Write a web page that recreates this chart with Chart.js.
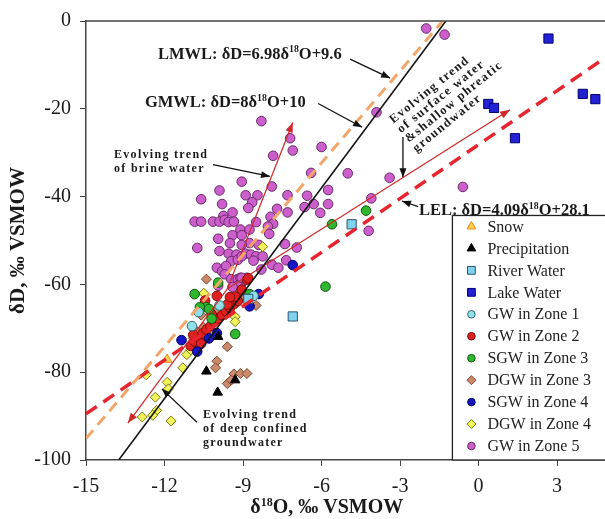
<!DOCTYPE html>
<html>
<head>
<meta charset="utf-8">
<script src="https://cdn.jsdelivr.net/npm/chart.js@4/dist/chart.umd.min.js"></script>
<style>
  html, body { margin: 0; padding: 0; background: #fff; }
  #wrap { width: 605px; height: 519px; }
</style>
</head>
<body>
<div id="wrap"><canvas id="myChart" width="605" height="519"></canvas></div>
<script>
'use strict';
// axis ticks
const xTicks = [-15, -12, -9, -6, -3, 0, 3];
const yTicks = [-100, -80, -60, -40, -20, 0];

// sample series (d18O, dD)
const snowX = [-11.9];
const snowY = [-77.1];
const precipX = [-9.95, -10.4, -9.3, -9.97];
const precipY = [-71.9, -79.8, -81.8, -84.6];
const riverX = [-4.85, -7.1, -8.8];
const riverY = [-46.3, -67.3, -63.3];
const lakeX = [2.67, 3.98, 4.46, 0.37, 0.59, 1.39];
const lakeY = [-4.0, -16.6, -17.8, -18.9, -19.8, -26.7];
const gw1X = [-10.7, -8.6, -10.95, -9.9];
const gw1Y = [-66.3, -62.6, -69.5, -64.8];
const gw2X = [-11.0, -10.85, -10.7, -10.55, -10.4, -10.25, -10.1, -9.95, -9.8, -9.65, -9.5, -9.35, -9.2,
  -10.45, -10.0, -9.6, -9.3, -8.85, -8.8, -9.05, -10.9, -10.6, -10.2, -9.5];
const gw2Y = [-74.0, -73.0, -72.0, -71.2, -70.3, -69.5, -68.5, -67.8, -67.0, -66.2, -65.3, -64.5, -63.8,
  -63.7, -62.6, -64.6, -62.8, -59.0, -58.6, -61.2, -71.5, -73.5, -66.8, -62.9];
const sgw3X = [-4.3, -5.6, -5.85, -10.85, -9.95, -8.75, -10.4, -9.3, -10.65, -10.3, -10.2];
const sgw3Y = [-43.2, -46.3, -60.5, -62.2, -59.6, -62.2, -65.2, -71.3, -65.2, -65.6, -67.8];
const dgw3X = [-10.4, -10.6, -10.2, -9.9, -10.0, -9.7, -8.5, -9.6, -10.0, -10.05, -9.35, -9.1, -8.85,
  -9.6, -9.45, -10.85, -10.75, -10.5, -10.9, -9.25, -8.9, -10.35];
const dgw3Y = [-58.8, -67.0, -67.3, -67.7, -65.9, -66.3, -64.8, -74.2, -77.5, -79.0, -80.4, -80.3, -80.3,
  -82.6, -81.8, -70.5, -70.8, -69.8, -72.3, -62.6, -62.9, -71.8];
const sgw4X = [-7.1, -11.35, -10.75, -10.3, -10.0, -8.75, -8.4];
const sgw4Y = [-55.6, -72.7, -75.3, -72.3, -71.1, -65.0, -62.2];
const dgw4X = [-10.5, -8.25, -9.3, -9.3, -11.15, -11.0, -11.3, -12.7, -11.9, -11.85, -12.35, -12.3, -12.45,
  -12.85, -11.75, -10.7, -10.45];
const dgw4Y = [-62.0, -51.4, -67.4, -68.5, -76.0, -74.9, -79.0, -80.6, -82.3, -83.8, -85.7, -88.7, -89.8,
  -90.2, -91.1, -74.4, -70.9];
const gw5X = [-2.0, -1.3, -3.9, -8.3, -7.2, -6.0, -7.1, -7.85, -6.4, -5.0, -3.4, -0.6, -9.05, -7.9, -9.9,
  -5.75, -10.6, -8.9, -8.45, -7.3, -6.55, -4.1, -8.65, -9.8, -6.3, -5.75, -8.8, -7.7, -6.65, -7.3, -6.05,
  -9.75, -9.4, -7.95, -10.85, -10.6, -10.15, -9.9, -9.7, -9.55, -9.35, -8.5, -7.85, -8.05, -9.1, -8.75,
  -4.2, -9.4, -9.05, -8.0, -9.95, -9.5, -8.75, -7.4, -6.95, -10.75, -8.4, -9.05, -9.9, -9.55, -9.25, -8.9,
  -8.7, -8.5, -8.25, -8.6, -9.45, -9.2, -9.05, -7.35, -7.9, -7.65, -8.3, -10.0, -9.8, -9.65, -9.7, -9.45,
  -9.2, -9.1, -8.85, -9.05, -9.95, -9.2, -9.4, -9.05];
const gw5Y = [-1.7, -3.1, -20.8, -22.8, -26.7, -28.7, -29.5, -30.7, -34.6, -34.7, -35.7, -37.8, -36.6, -37.7,
  -38.6, -38.5, -40.6, -39.7, -39.7, -39.7, -39.8, -40.4, -41.3, -41.7, -41.7, -41.7, -42.6, -42.8, -42.4,
  -43.6, -43.7, -44.4, -43.6, -44.6, -45.7, -45.7, -45.7, -45.7, -45.3, -45.8, -45.7, -45.8, -46.2, -46.8,
  -47.5, -47.5, -47.8, -48.8, -48.8, -48.5, -49.6, -50.6, -50.6, -50.8, -51.6, -51.7, -51.0, -51.0, -52.4,
  -53.0, -53.2, -53.0, -53.2, -53.6, -53.6, -54.6, -54.7, -54.4, -53.6, -54.5, -55.5, -56.2, -56.6, -56.2,
  -57.0, -55.8, -57.7, -58.8, -58.8, -58.5, -58.5, -59.6, -60.3, -60.3, -60.6, -58.5];

// water lines (end points as drawn)
const gmwlX = [-13.75, -1.25];
const gmwlY = [-100, 0];
const lmwlX = [-15, -1.4];
const lmwlY = [-95.1, -0.2];
const lelX = [-15, 4.83];
const lelY = [-89.5, -8.4];

// evolving trend arrows
const brineX = [-9.6, -7.1];
const brineY = [-61, -23.1];
const surfX = [-9.6, 1.2];
const surfY = [-61, -20.2];
const deepX = [-9.6, -13.4];
const deepY = [-61, -91.6];

// pointer arrows for the labels
const ptrLmwlX = [-4.91, -3.38];
const ptrLmwlY = [-8.7, -13.0];
const ptrGmwlX = [-6.13, -4.45];
const ptrGmwlY = [-18.8, -24.2];
const ptrBrineX = [-10.15, -7.97];
const ptrBrineY = [-32.7, -35.4];
const ptrSurfX = [-2.89, -2.89];
const ptrSurfY = [-26.4, -35.6];
const ptrLelX = [-2.31, -2.93];
const ptrLelY = [-42.3, -41.0];
const ptrDeepX = [-10.76, -12.1];
const ptrDeepY = [-91.4, -83.8];

const SERIF = '"Liberation Serif", "Times New Roman", serif';
const pts = (xs, ys) => xs.map((x, i) => ({x: x, y: ys[i]}));

function pointSet(label, xs, ys, style, fill, border, radius, legendRadius, order) {
  return {
    label: label, data: pts(xs, ys), pointStyle: style, backgroundColor: fill,
    borderColor: border, pointBorderWidth: 1, pointRadius: radius, legendRadius: legendRadius,
    order: order, showLine: false
  };
}
function lineSet(xs, ys, color, width, dash, arrow) {
  return {
    data: pts(xs, ys), showLine: true, borderColor: color, borderWidth: width,
    borderDash: dash, pointRadius: 0, order: 0, arrow: arrow, isLine: true
  };
}

const pointSets = [
  pointSet('Snow', snowX, snowY, 'triangle', '#ffd24a', '#ee8a1c', 5.5, 5, 2),
  pointSet('Precipitation', precipX, precipY, 'triangle', '#000000', '#000000', 5.5, 5, 1),
  pointSet('River Water', riverX, riverY, 'rect', '#7fd3ee', '#2a5470', 6.5, 5.5, 3),
  pointSet('Lake Water', lakeX, lakeY, 'rect', '#2222d4', '#000070', 6.5, 5.5, 3),
  pointSet('GW in Zone 1', gw1X, gw1Y, 'circle', '#8fe0e6', '#2d6a70', 4.8, 3.8, 4),
  pointSet('GW in Zone 2', gw2X, gw2Y, 'circle', '#e0201e', '#7a0a0a', 4.8, 3.8, 7),
  pointSet('SGW in Zone 3', sgw3X, sgw3Y, 'circle', '#2eb82e', '#125512', 4.8, 3.8, 6),
  pointSet('DGW in Zone 3', dgw3X, dgw3Y, 'rectRot', '#cc8a6c', '#7a4a30', 5, 4.5, 9),
  pointSet('SGW in Zone 4', sgw4X, sgw4Y, 'circle', '#1616c8', '#00005a', 4.8, 3.8, 5),
  pointSet('DGW in Zone 4', dgw4X, dgw4Y, 'rectRot', '#f2f25a', '#7a7a14', 5, 4.5, 8),
  pointSet('GW in Zone 5', gw5X, gw5Y, 'circle', '#cc5fcc', '#6a2a6a', 4.8, 3.8, 10)
];

const lineSets = [
  lineSet(lmwlX, lmwlY, '#f2a66a', 3, [11, 7], false),
  lineSet(lelX, lelY, '#e8242e', 3.5, [13, 8], false),
  lineSet(gmwlX, gmwlY, '#151515', 1.6, [], false),
  lineSet(brineX, brineY, '#d02828', 1.2, [], true),
  lineSet(surfX, surfY, '#d02828', 1.2, [], true),
  lineSet(deepX, deepY, '#d02828', 1.2, [], true),
  lineSet(ptrLmwlX, ptrLmwlY, '#111', 1.3, [], true),
  lineSet(ptrGmwlX, ptrGmwlY, '#111', 1.3, [], true),
  lineSet(ptrBrineX, ptrBrineY, '#111', 1.3, [], true),
  lineSet(ptrSurfX, ptrSurfY, '#111', 1.3, [], true),
  lineSet(ptrLelX, ptrLelY, '#111', 1.3, [], true),
  lineSet(ptrDeepX, ptrDeepY, '#111', 1.3, [], true)
];

// text with a raised "18"
function drawRich(ctx, parts, x, y, size, align) {
  const f = s => 'bold ' + s + 'px ' + SERIF;
  let w = 0;
  parts.forEach(p => { ctx.font = f(p[1] ? size * 0.6 : size); w += ctx.measureText(p[0]).width; });
  let cx = align === 'center' ? x - w / 2 : x;
  ctx.textAlign = 'left';
  ctx.textBaseline = 'middle';
  parts.forEach(p => {
    ctx.font = f(p[1] ? size * 0.6 : size);
    ctx.fillText(p[0], cx, p[1] ? y - size * 0.27 : y);
    cx += ctx.measureText(p[0]).width;
  });
}

const notesPlugin = {
  id: 'notes',
  beforeDraw(chart) {
    const ctx = chart.ctx;
    ctx.save();
    ctx.fillStyle = '#fff';
    ctx.fillRect(0, 0, chart.width, chart.height);
    ctx.restore();
  },
  afterDatasetsDraw(chart) {
    const ctx = chart.ctx;
    const xs = chart.scales.x, ys = chart.scales.y;
    const ca = chart.chartArea;
    const px = v => xs.getPixelForValue(v);
    const py = v => ys.getPixelForValue(v);
    ctx.save();

    // arrow heads
    chart.data.datasets.forEach((ds, i) => {
      if (!ds.arrow) return;
      const d = chart.getDatasetMeta(i).data;
      const a = d[d.length - 2], b = d[d.length - 1];
      const ang = Math.atan2(b.y - a.y, b.x - a.x);
      const len = ds.borderColor === '#111' ? 9 : 10, half = ds.borderColor === '#111' ? 3.5 : 3.8;
      ctx.fillStyle = ds.borderColor;
      ctx.beginPath();
      ctx.moveTo(b.x, b.y);
      ctx.lineTo(b.x - len * Math.cos(ang) + half * Math.sin(ang), b.y - len * Math.sin(ang) - half * Math.cos(ang));
      ctx.lineTo(b.x - len * Math.cos(ang) - half * Math.sin(ang), b.y - len * Math.sin(ang) + half * Math.cos(ang));
      ctx.closePath();
      ctx.fill();
    });

    // top frame line
    ctx.strokeStyle = '#444';
    ctx.lineWidth = 1.5;
    ctx.beginPath();
    ctx.moveTo(ca.left, ca.top);
    ctx.lineTo(ca.right, ca.top);
    ctx.stroke();

    // equations
    ctx.fillStyle = '#1a1a1a';
    drawRich(ctx, [['LMWL: δD=6.98δ'], ['18', 1], ['O+9.6']], px(-12.25), py(-7.6), 16.5, 'left');
    drawRich(ctx, [['GMWL: δD=8δ'], ['18', 1], ['O+10']], px(-12.75), py(-18.6), 16.5, 'left');
    drawRich(ctx, [['LEL: δD=4.09δ'], ['18', 1], ['O+28.1']], px(-2.28), py(-43.2), 16.5, 'left');

    // trend notes
    ctx.font = 'bold 12px ' + SERIF;
    ctx.letterSpacing = '1.3px';
    ctx.textAlign = 'left';
    ctx.textBaseline = 'middle';
    ['Evolving trend', 'of brine water'].forEach((t, k) => ctx.fillText(t, px(-13.93), py(-30.5) + k * 14.5));
    ['Evolving trend', 'of deep confined', 'groundwater'].forEach((t, k) => ctx.fillText(t, px(-10.53), py(-89.8) + k * 14));
    ctx.save();
    ctx.translate(px(-3.26), py(-23.4));
    ctx.rotate(-39 * Math.PI / 180);
    ctx.font = 'bold 12.5px ' + SERIF;
    ctx.letterSpacing = '1.4px';
    ctx.textBaseline = 'alphabetic';
    ['Evolving trend', 'of surface water', '&shallow phreatic', 'groundwater'].forEach((t, k) => ctx.fillText(t, 0, k * 12.3));
    ctx.restore();
    ctx.letterSpacing = '0px';

    // legend box
    const lx = px(-1.0), ly = py(-44.3);
    ctx.fillStyle = '#fff';
    ctx.fillRect(lx, ly, ca.right - lx + 2, ca.bottom - ly);
    ctx.strokeStyle = '#222';
    ctx.lineWidth = 1.3;
    ctx.strokeRect(lx, ly, ca.right - lx + 4, ca.bottom - ly);
    const step = (ca.bottom - ly - 14) / 10.5;
    pointSets.forEach((ds, k) => {
      const yy = ly + 11 + k * step;
      ctx.fillStyle = ds.backgroundColor;
      ctx.strokeStyle = ds.borderColor;
      ctx.lineWidth = 1;
      Chart.helpers.drawPoint(ctx, {pointStyle: ds.pointStyle, radius: ds.legendRadius, rotation: 0, borderWidth: 1}, lx + 19, yy);
      ctx.fillStyle = '#222';
      ctx.font = '16px ' + SERIF;
      ctx.textAlign = 'left';
      ctx.textBaseline = 'middle';
      ctx.fillText(ds.label, lx + 35, yy + 1);
    });

    // x axis title
    ctx.fillStyle = '#1a1a1a';
    drawRich(ctx, [['δ'], ['18', 1], ['O, ‰ VSMOW']], px(-5.8), 508, 20, 'center');
    ctx.restore();
  }
};

const ctx = document.getElementById('myChart').getContext('2d');
const myChart = new Chart(ctx, {
  type: 'scatter',
  data: { datasets: lineSets.concat(pointSets) },
  options: {
    responsive: false,
    animation: false,
    events: [],
    layout: { autoPadding: false, padding: { top: 14, left: 0, right: 0, bottom: 0 } },
    plugins: { legend: { display: false }, tooltip: { enabled: false } },
    scales: {
      x: {
        type: 'linear', min: -15, max: 4.83,
        afterFit(scale) { scale.height = 59; },
        afterBuildTicks(scale) { scale.ticks = xTicks.map(v => ({value: v})); },
        grid: { drawOnChartArea: false, drawTicks: true, tickLength: 6, color: '#444' },
        border: { display: true, color: '#444', width: 1.5 },
        ticks: { color: '#1a1a1a', padding: 9, maxRotation: 0, font: { family: SERIF, size: 20 } }
      },
      y: {
        type: 'linear', min: -100, max: 0,
        afterFit(scale) { scale.width = 86; },
        afterBuildTicks(scale) { scale.ticks = yTicks.map(v => ({value: v})); },
        grid: { drawOnChartArea: false, drawTicks: true, tickLength: 6, color: '#444' },
        border: { display: true, color: '#444', width: 1.5 },
        ticks: { color: '#1a1a1a', padding: 9, font: { family: SERIF, size: 20 } },
        title: { display: true, text: 'δD, ‰ VSMOW', color: '#1a1a1a', padding: { top: 6 },
          font: { family: SERIF, size: 21, weight: 'bold' } }
      }
    }
  },
  plugins: [notesPlugin]
});
</script>
</body>
</html>
